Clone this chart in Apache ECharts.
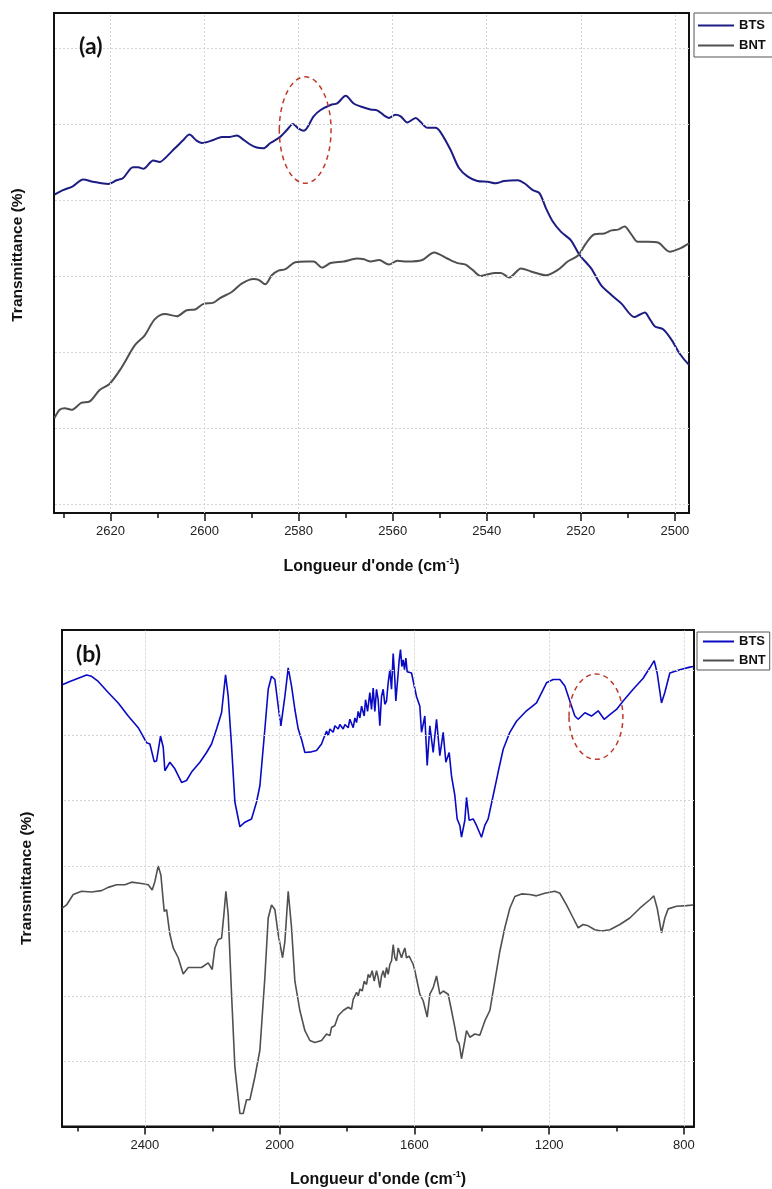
<!DOCTYPE html>
<html><head><meta charset="utf-8">
<script src="https://cdn.jsdelivr.net/npm/echarts@6/dist/echarts.min.js"></script>
<style>html,body{margin:0;padding:0;background:#fff}#c{width:772px;height:1189px}</style>
</head><body><div id="c"></div>
<script>
// ---- Panel (a) data ----
const btsA_x=[2631.9,2630.1,2628.0,2625.8,2623.7,2620.5,2618.7,2617.3,2615.2,2614.1,2613.0,2610.9,2609.5,2608.4,2606.3,2604.5,2603.2,2601.7,2600.6,2598.1,2596.3,2594.6,2593.1,2592.1,2590.3,2588.9,2587.5,2586.0,2583.9,2582.5,2581.2,2580.0,2578.9,2576.8,2575.4,2573.2,2571.8,2570.0,2568.3,2566.8,2564.7,2563.3,2560.8,2559.4,2558.3,2556.9,2555.1,2554.1,2552.6,2550.9,2549.8,2547.7,2545.9,2544.1,2542.0,2539.8,2538.1,2536.3,2533.4,2532.0,2530.2,2528.8,2527.4,2526.0,2524.2,2522.1,2520.3,2517.8,2515.7,2513.5,2511.4,2508.6,2507.5,2506.4,2505.4,2504.3,2502.5,2500.7,2499.0,2497.0];
const btsA_y=[40.7,41.3,41.8,42.7,42.4,42.1,42.6,42.9,44.3,44.3,44.1,45.2,45.0,45.5,46.8,47.9,48.6,47.8,47.5,47.9,48.3,48.3,48.5,48.1,47.3,46.9,46.8,47.5,48.3,49.2,50.0,49.4,49.1,51.0,51.8,52.5,52.7,53.7,52.7,52.3,51.9,51.8,50.8,51.2,51.0,50.2,50.8,50.3,49.5,49.5,48.9,46.6,44.2,43.1,42.5,42.4,42.2,42.5,42.6,42.2,41.3,40.9,38.9,37.2,35.8,34.7,32.8,31.0,28.8,27.5,26.4,24.6,24.9,25.2,24.4,23.4,23.0,21.6,19.8,18.3];
const bntA_x=[2631.9,2630.8,2629.7,2628.3,2626.2,2624.4,2622.3,2620.2,2617.7,2614.8,2612.7,2610.6,2608.4,2605.9,2603.8,2602.0,2600.3,2598.1,2596.7,2594.2,2592.1,2589.6,2588.5,2587.1,2585.7,2584.3,2582.8,2580.7,2578.2,2576.8,2575.0,2573.2,2570.4,2567.6,2566.1,2564.7,2562.9,2560.8,2559.0,2556.9,2553.7,2551.2,2548.4,2546.2,2544.5,2543.0,2541.3,2538.4,2537.0,2535.2,2532.7,2530.6,2527.4,2524.9,2522.8,2520.6,2518.9,2517.1,2515.0,2513.5,2512.1,2510.7,2509.3,2507.9,2505.7,2503.6,2501.1,2499.0,2497.0];
const bntA_y=[11.3,12.4,12.6,12.4,13.3,13.5,15.0,15.8,17.9,20.9,22.2,24.3,25.0,24.7,25.5,25.6,26.3,26.5,27.1,27.9,29.0,29.6,29.5,28.9,30.1,30.7,30.9,31.8,31.9,31.9,31.1,31.7,31.9,32.3,32.2,31.9,32.1,31.5,32.0,31.9,32.1,33.1,32.3,31.7,31.5,30.8,30.0,30.4,30.4,29.8,31.0,30.6,30.1,30.8,31.9,32.7,34.3,35.5,35.6,36.0,36.1,36.5,35.5,34.5,34.5,34.4,33.2,33.6,34.3];
const ticksA_major=[2500,2520,2540,2560,2580,2600,2620];
const ticksA_minor=[2510,2530,2550,2570,2590,2610,2630];
const gridA_y=[0,10,20,30,40,50,60];
const markA=[2578.6,49.2,5.5,7.0]; // ellipse centre (x,y) and half-widths

// ---- Panel (b) data ----
const btsB_x=[2645.3,2622.6,2597.8,2573.1,2558.3,2538.5,2508.8,2479.1,2449.4,2419.7,2395.0,2385.1,2372.3,2365.3,2353.5,2345.5,2340.6,2325.8,2310.9,2291.1,2276.3,2261.4,2236.7,2216.9,2202.1,2187.2,2172.4,2160.5,2152.6,2142.7,2132.8,2118.0,2103.1,2083.4,2068.5,2058.6,2043.8,2033.9,2024.0,2014.1,2004.2,1996.3,1984.4,1974.5,1964.6,1954.7,1944.8,1934.9,1925.0,1905.3,1890.4,
 1875.6,1870.6,1860.7,1855.8,1850.8,1841.0,1836.0,1826.1,1821.2,1811.3,1806.3,1796.4,1791.5,1781.6,1776.6,1771.7,1766.7,1761.8,1756.8,1748.9,1745.0,1739.0,
 1732.2,1727.3,1722.3,1717.4,1712.4,1707.5,1702.5,1697.6,1692.6,1687.7,1682.7,1677.8,1672.8,1667.9,1662.9,1658.0,1655.0,1648.1,1645.1,1641.2,1637.2,1633.3,1629.3,1625.3,1621.4,1615.5,1608.5,1603.6,
 1593.7,1583.8,1578.8,1569.0,1562.0,1554.1,1544.2,1534.3,1524.4,1514.5,1506.6,1496.7,1489.8,1479.9,1473.0,1465.1,1460.1,1450.2,1445.3,1437.4,1425.5,1415.6,1400.8,1390.9,1381.0,1366.1,1351.3,1336.4,1316.7,1296.9,1267.2,1237.5,1207.8,1188.0,1168.2,1153.4,1138.6,1123.7,1113.8,1094.0,1074.3,1054.5,1036.7,1019.8,1000.0,980.3,950.6,920.9,901.1,888.2,879.3,866.5,856.6,841.7,812.1,782.4,772.5];
const btsB_y=[67.8,68.3,68.8,69.3,69.1,68.3,66.6,65.0,63.0,61.2,58.9,58.7,56.0,56.1,59.9,58.2,54.6,55.9,54.9,52.8,53.1,54.4,55.9,57.4,58.7,61.0,63.5,69.3,66.0,58.4,49.8,46.0,46.7,47.2,49.8,52.3,61.0,67.1,69.1,68.6,64.5,61.5,66.0,70.4,67.6,64.0,61.0,59.4,57.4,57.5,57.7,
 58.7,59.4,60.7,60.0,61.0,60.5,61.5,61.0,61.7,61.0,61.7,61.2,62.5,61.2,62.7,62.0,63.7,62.7,64.5,63.0,65.5,63.7,
 66.6,64.0,67.3,63.7,67.1,65.5,61.5,66.0,67.1,64.8,65.3,68.1,70.1,67.1,72.6,68.6,65.3,69.6,71.6,73.2,70.6,71.6,70.1,71.9,69.8,70.1,69.6,69.6,
 66.0,64.5,60.5,63.0,55.4,61.5,57.4,62.5,56.9,60.5,55.9,57.4,53.8,50.8,47.2,46.2,44.4,47.0,50.5,47.0,47.2,46.2,44.4,46.2,47.2,50.8,54.4,57.9,60.5,62.2,63.8,65.0,68.1,68.6,68.6,67.6,65.3,63.0,62.5,63.5,63.0,63.8,62.5,63.2,64.0,65.3,67.1,68.8,70.4,71.5,69.6,65.0,66.6,69.6,70.1,70.5,70.6];
const bntB_x=[2645.3,2632.5,2612.7,2587.9,2558.3,2528.6,2508.8,2484.1,2459.3,2439.5,2409.9,2390.1,2378.2,2370.3,2360.4,2352.5,2342.6,2335.6,2325.8,2315.9,2301.0,2286.2,2271.3,2251.6,2231.8,2212.0,2200.1,2192.2,2182.3,2172.4,2165.5,2159.5,2152.6,2142.7,2132.8,2118.0,2108.1,2098.2,2088.3,2073.5,2058.6,2043.8,2033.9,2024.0,2014.1,2004.2,1991.3,1984.4,1974.5,1964.6,1954.7,1939.9,1925.0,1910.2,1895.4,1875.6,
 1860.7,1850.8,1845.9,1836.0,1826.1,1821.2,1811.3,1806.3,1796.4,1786.5,1781.6,1776.6,1771.7,1766.7,1761.8,1754.9,1748.9,1742.0,1737.1,1732.1,1725.2,1719.3,
 1712.4,1707.5,1702.5,1697.6,1692.6,1687.7,1682.7,1677.8,1672.8,1667.9,1662.9,1658.0,1653.0,1648.1,1643.2,1638.2,1633.3,1628.3,1623.4,1615.5,1608.5,1603.6,1598.6,
 1583.8,1573.9,1562.0,1554.1,1544.2,1534.3,1524.4,1514.5,1499.7,1489.8,1479.9,1473.0,1467.0,1460.1,1450.2,1445.3,1435.4,1420.5,1405.7,1390.9,1376.0,1361.2,1346.3,1331.5,1316.7,1301.8,1282.0,1257.3,1237.5,1212.8,1183.1,1168.2,1148.5,1128.7,1113.8,1099.0,1084.1,1064.4,1044.6,1019.8,990.2,960.5,930.8,901.1,889.2,879.3,866.5,856.6,846.7,822.0,792.3,772.5];
const bntB_y=[33.5,34.0,35.6,36.1,36.0,36.2,36.7,37.1,37.1,37.5,37.3,37.1,36.3,37.6,40.0,38.6,33.0,33.3,29.5,27.4,25.9,23.4,24.4,24.4,24.4,25.1,24.1,27.4,28.7,28.9,32.5,36.1,32.5,20.3,9.1,2.0,2.0,4.1,4.1,7.6,11.7,22.9,32.0,34.0,33.3,29.5,25.9,28.4,36.1,30.5,22.3,17.8,14.7,13.2,12.9,13.2,
 14.2,13.95,15.2,15.5,17.0,16.75,17.8,17.5,18.3,18.0,19.5,19.3,20.6,20.05,21.1,20.8,22.3,21.8,23.35,22.85,23.9,22.3,
 23.9,22.85,21.3,23.1,23.9,22.85,24.4,23.35,24.9,25.4,27.9,25.9,25.4,27.4,27.7,25.9,26.7,27.4,25.9,26.15,25.4,24.9,23.9,
 20.3,19.3,16.8,20.3,21.3,23.1,20.3,20.8,20.3,17.8,15.2,13.2,12.7,10.4,13.2,14.7,13.7,14.2,14.0,16.2,17.8,22.3,26.9,30.5,33.5,35.3,35.7,35.6,35.4,35.8,36.1,35.8,34.0,32.0,30.5,31.0,30.8,30.2,30.0,30.2,31.0,32.0,33.5,34.8,35.4,33.5,29.7,32.0,33.4,33.8,33.9,34.0];
const ticksB_major=[800,1200,1600,2000,2400];
const ticksB_minor=[1000,1400,1800,2200,2600];
const gridB_y=[10,20,30,40,50,60,70];
const markB=[1061,62.9,80,6.55];

const seriesNames=['BTS','BNT'];
const axisTitle="{t|Longueur d'onde (cm}{s|-1}{t|)}";
const yTitle='Transmittance (%)';

// ---- styles ----
const cBTS_A='#1c1c84', cBTS_B='#0a0ac4', cBNT='#505050';
const narrow="'Liberation Sans Narrow','Liberation Sans',Arial,sans-serif";
const sans="'Liberation Sans',Arial,sans-serif";
const gridLine={color:'#d4d4d4',type:[2,2],width:1};
function zip(xs,ys){return xs.map((x,i)=>[x,ys[i]]);}

function xMain(gi,min,max,major){
  return {gridIndex:gi,type:'value',min:min,max:max,inverse:true,position:'bottom',
    axisLine:{show:true,onZero:false,lineStyle:{color:'#111',width:2}},
    axisTick:{show:true,inside:false,length:8,customValues:major,lineStyle:{color:'#111',width:1.5}},
    axisLabel:{customValues:major,margin:12,fontFamily:narrow,fontSize:13,color:'#222',formatter:v=>String(v)},
    splitLine:{show:false},
    name:axisTitle,nameLocation:'middle',nameGap:44,
    nameTextStyle:{rich:{t:{fontFamily:narrow,fontWeight:'bold',fontSize:16,color:'#111',lineHeight:19},
                         s:{fontFamily:narrow,fontWeight:'bold',fontSize:9,color:'#111',verticalAlign:'top',lineHeight:19}}}};
}
function xMinor(gi,min,max,minor){
  return {gridIndex:gi,type:'value',min:min,max:max,inverse:true,position:'bottom',
    axisLine:{show:false,onZero:false},
    axisTick:{show:true,inside:false,length:5,customValues:minor,lineStyle:{color:'#111',width:1.5}},
    axisLabel:{show:false},splitLine:{show:false}};
}
function yAx(gi,min,max,gap,pad){
  return {gridIndex:gi,type:'value',min:min,max:max,
    axisLine:{show:true,onZero:false,lineStyle:{color:'#111',width:2}},
    axisTick:{show:false},axisLabel:{show:false},splitLine:{show:false},
    name:yTitle,nameLocation:'middle',nameGap:gap,
    nameTextStyle:{fontFamily:sans,fontWeight:'bold',fontSize:15.5,color:'#111',padding:pad}};
}
function gridMarks(xs,ys){
  return {silent:true,symbol:['none','none'],label:{show:false},lineStyle:gridLine,animation:false,
    data:xs.map(v=>({xAxis:v})).concat(ys.map(v=>({yAxis:v})))};
}
function lineS(name,xi,yi,data,color,w,smooth,mark){
  const s={name:name,type:'line',xAxisIndex:xi,yAxisIndex:yi,data:data,showSymbol:false,symbol:'none',
    smooth:smooth,lineStyle:{color:color,width:w},itemStyle:{color:color},animation:false,z:3};
  if(mark) s.markLine=mark;
  return s;
}
const hideSym={color:'rgba(0,0,0,0)',borderWidth:0,opacity:0};

const chart=echarts.init(document.getElementById('c'),null,{renderer:'canvas'});
const option={
  backgroundColor:'#fff',
  animation:false,
  grid:[
    {left:54,top:13,width:635,height:500,show:true,borderColor:'#111',borderWidth:2,backgroundColor:'transparent'},
    {left:62,top:630,width:632,height:498,show:true,borderColor:'#111',borderWidth:2,backgroundColor:'transparent'}
  ],
  xAxis:[xMain(0,2497,2632,ticksA_major),xMinor(0,2497,2632,ticksA_minor),
         xMain(1,770,2646,ticksB_major),xMinor(1,770,2646,ticksB_minor)],
  yAxis:[yAx(0,-1.18,64.6,28,[0,0,0,16]),yAx(1,0,76.2,27,[0,0,0,0])],
  legend:[
    {orient:'vertical',left:694,top:13,padding:[6,12,5,3],itemGap:7,itemWidth:36,itemHeight:14,
     borderColor:'#555',borderWidth:1,backgroundColor:'#fff',selectedMode:false,
     textStyle:{fontFamily:sans,fontWeight:'bold',fontSize:13,color:'#111'},
     data:[{name:seriesNames[0],itemStyle:hideSym,lineStyle:{color:cBTS_A,width:2}},
           {name:seriesNames[1],itemStyle:hideSym,lineStyle:{color:cBNT,width:2}}]},
    {orient:'vertical',left:697,top:632,padding:[3,4,3,5],itemGap:6,itemWidth:31,itemHeight:12,
     borderColor:'#555',borderWidth:1,backgroundColor:'#fff',selectedMode:false,
     textStyle:{fontFamily:sans,fontWeight:'bold',fontSize:13,color:'#111'},
     data:[{name:seriesNames[0],itemStyle:hideSym,lineStyle:{color:cBTS_B,width:2}},
           {name:seriesNames[1],itemStyle:hideSym,lineStyle:{color:cBNT,width:2}}]}
  ],
  series:[
    lineS(seriesNames[0],0,0,zip(btsA_x,btsA_y),cBTS_A,2,0.3,gridMarks(ticksA_major,gridA_y)),
    lineS(seriesNames[1],0,0,zip(bntA_x,bntA_y),cBNT,2,0.3,null),
    lineS(seriesNames[0],2,1,zip(btsB_x,btsB_y),cBTS_B,1.6,false,gridMarks(ticksB_major,gridB_y)),
    lineS(seriesNames[1],2,1,zip(bntB_x,bntB_y),cBNT,1.6,false,null)
  ]
};
chart.setOption(option);

function ellipse(gi,m){
  const c=chart.convertToPixel({gridIndex:gi},[m[0],m[1]]);
  const e=chart.convertToPixel({gridIndex:gi},[m[0]-m[2],m[1]+m[3]]);
  return {type:'ellipse',shape:{cx:c[0],cy:c[1],rx:Math.abs(e[0]-c[0]),ry:Math.abs(e[1]-c[1])},
    style:{fill:'none',stroke:'#c0392b',lineWidth:1.5,lineDash:[5,4]},z:10,silent:true};
}
chart.setOption({graphic:[
  ellipse(0,markA),ellipse(1,markB),
  {type:'text',left:79,top:35,style:{text:'(a)',font:"bold 23px Lato, 'Open Sans', sans-serif",fill:'#111'},z:10},
  {type:'text',left:76,top:643,style:{text:'(b)',font:"bold 23px Lato, 'Open Sans', sans-serif",fill:'#111'},z:10}
]});
</script></body></html>
